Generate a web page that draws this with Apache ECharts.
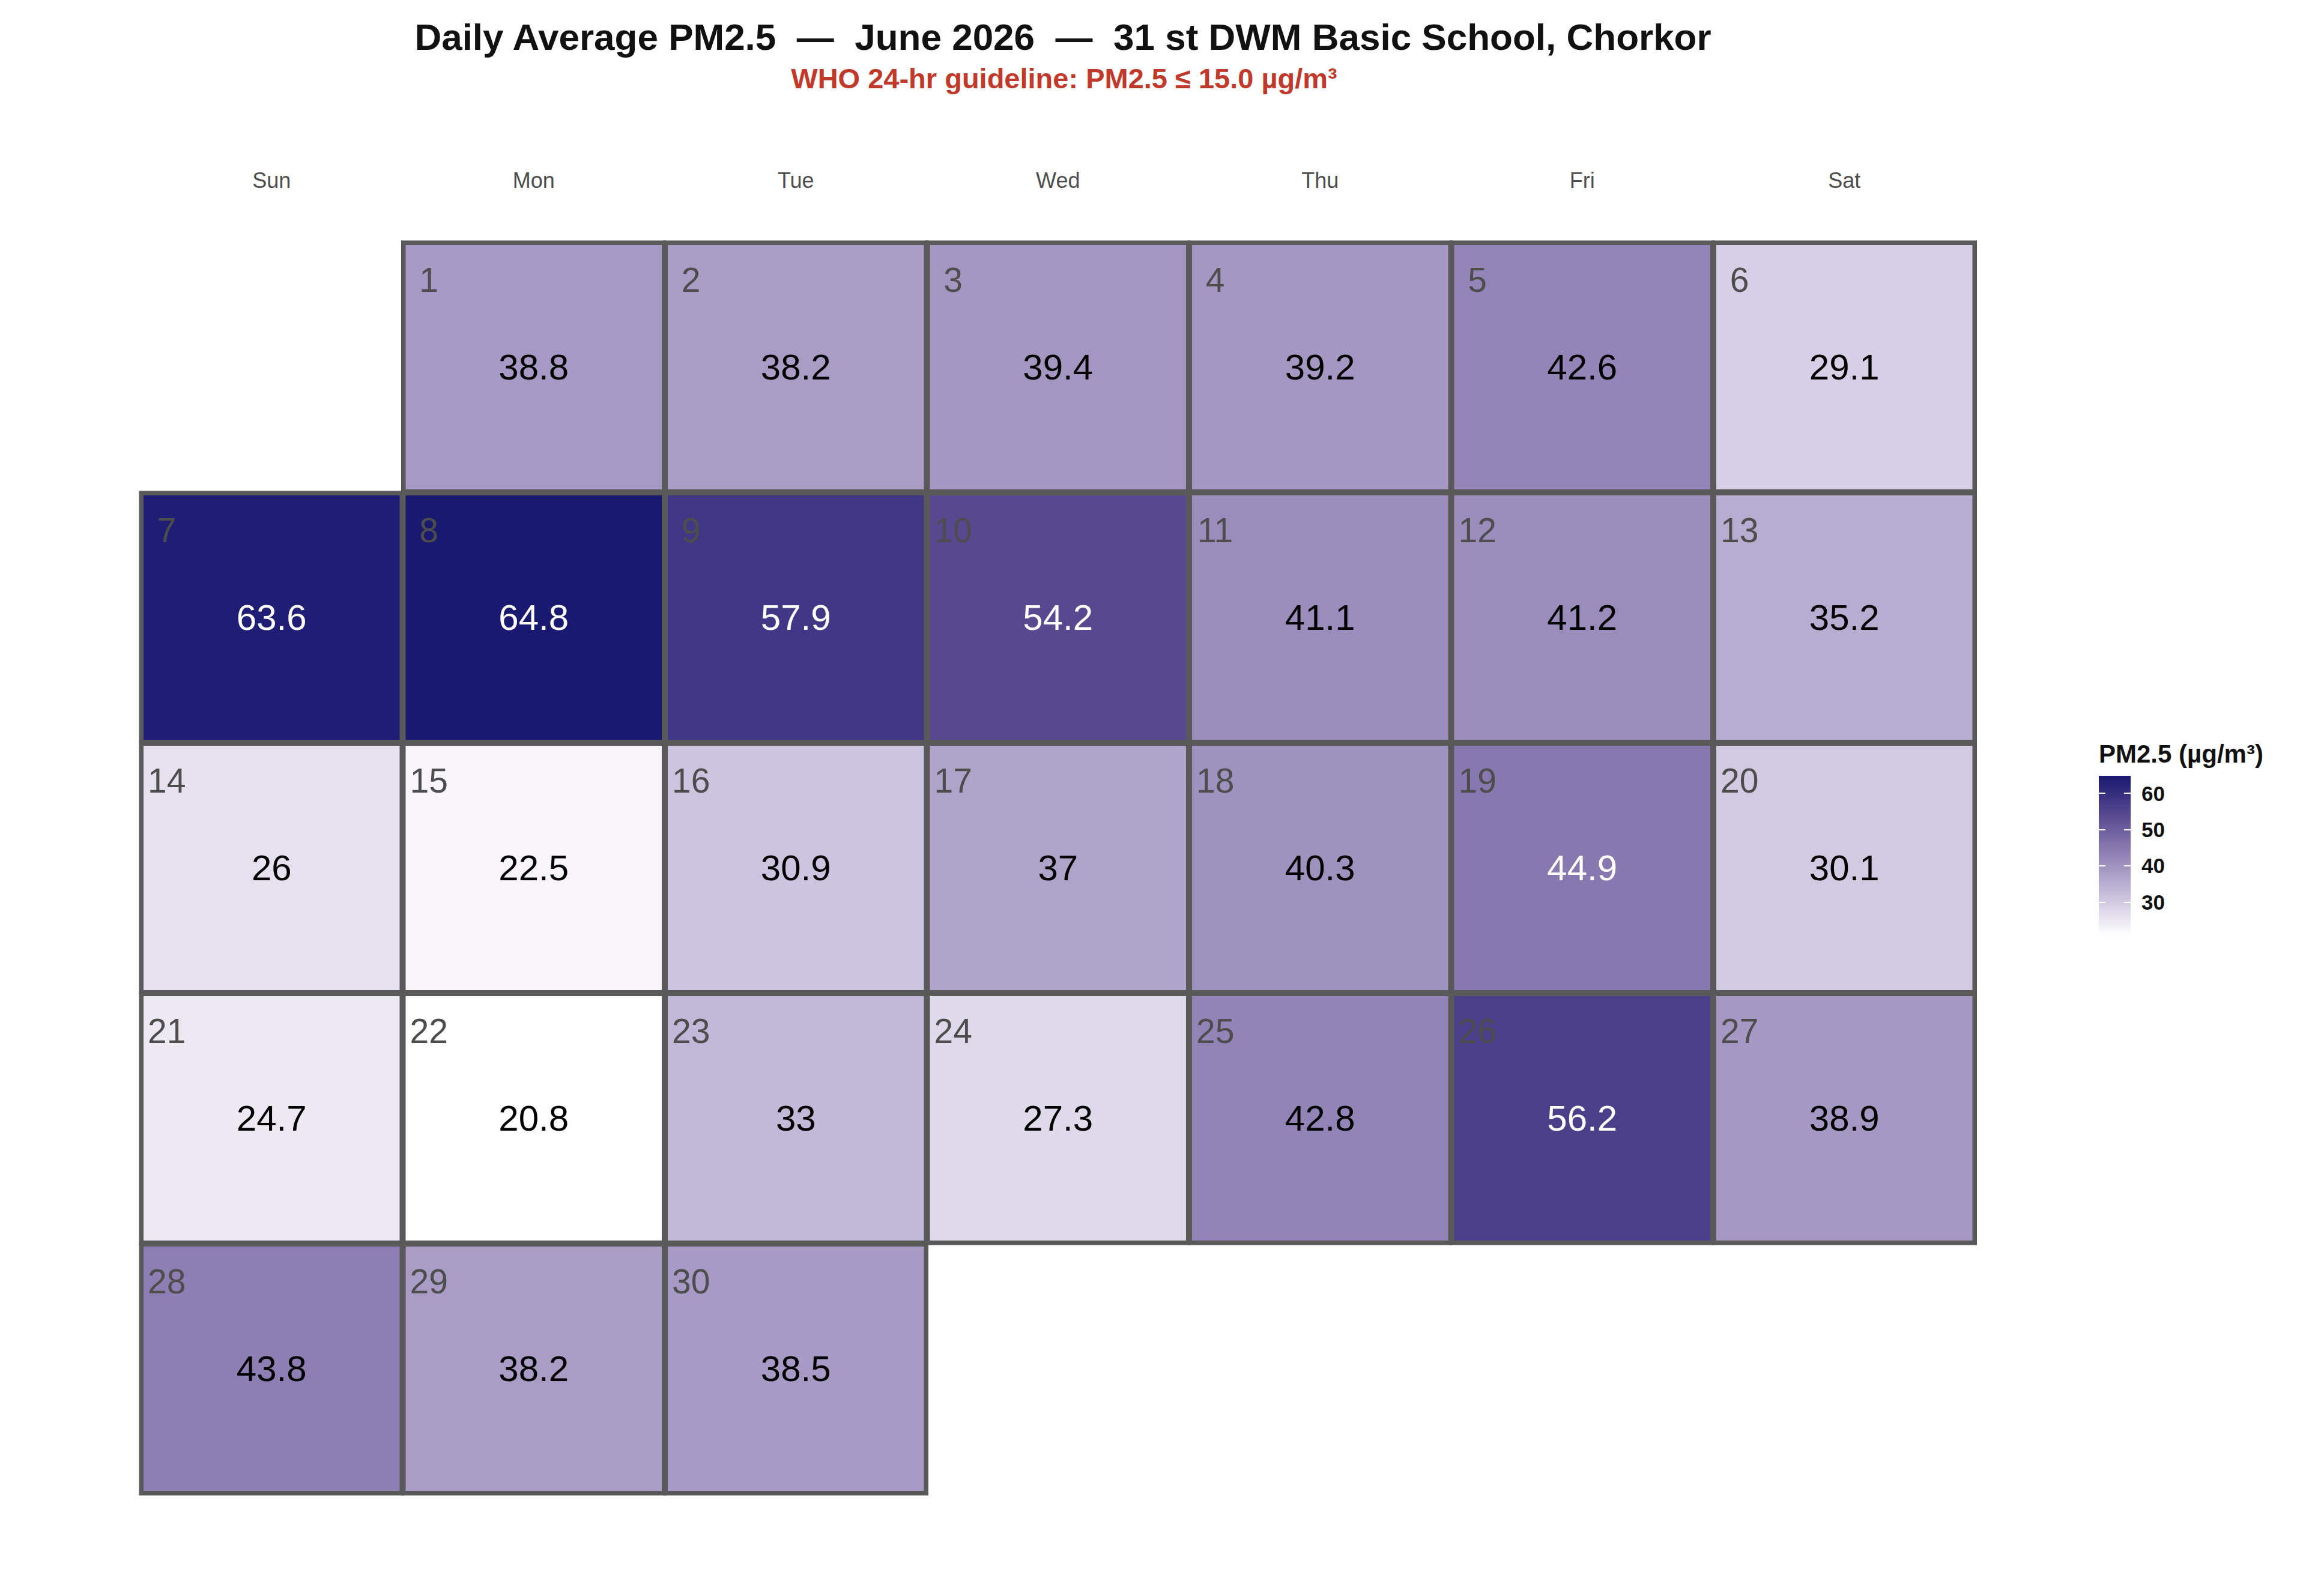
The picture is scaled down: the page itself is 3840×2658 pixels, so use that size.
<!DOCTYPE html>
<html>
<head>
<meta charset="utf-8">
<script src="https://cdn.jsdelivr.net/npm/echarts@6/dist/echarts.min.js"></script>
<style>html,body{margin:0;padding:0;background:#fff;}</style>
</head>
<body>
<div id="main" style="width:3840px;height:2658px;"></div>
<script>
// data
var month = '2026-06';
var weekdays = ['Sun', 'Mon', 'Tue', 'Wed', 'Thu', 'Fri', 'Sat'];
// daily mean PM2.5, June 1..30
var pm25 = [
    38.8, 38.2, 39.4, 39.2, 42.6, 29.1,
    63.6, 64.8, 57.9, 54.2, 41.1, 41.2, 35.2,
    26, 22.5, 30.9, 37, 40.3, 44.9, 30.1,
    24.7, 20.8, 33, 27.3, 42.8, 56.2, 38.9,
    43.8, 38.2, 38.5
];
var legendTicks = [30, 40, 50, 60];

var titleText = 'Daily Average PM2.5  \u2014  June 2026  \u2014  31 st DWM Basic School, Chorkor';
var subText = 'WHO 24-hr guideline: PM2.5 \u2264 15.0 \u00b5g/m\u00b3';
var legendName = 'PM2.5 (\u00b5g/m\u00b3)';

var font = "'Liberation Sans', Arial, Helvetica, sans-serif";
var ramp = ['#ffffff', '#c8c0dc', '#9284b6', '#594a91', '#191970'];
var vMin = Math.min.apply(null, pm25);
var vMax = Math.max.apply(null, pm25);

function dateOf(i) {
    var d = i + 1;
    return month + '-' + (d < 10 ? '0' + d : d);
}

var cells = pm25.map(function (v, i) {
    return {
        value: [dateOf(i), v],
        label: { color: v > 44 ? '#ffffff' : '#000000' }
    };
});
var dayNums = pm25.map(function (v, i) {
    return [dateOf(i), i + 1];
});

// gradient for the legend bar, dark at the top
var rampStops = ramp.slice().reverse().map(function (c, i, a) {
    return { offset: i / (a.length - 1), color: c };
});

var myChart = echarts.init(document.getElementById('main'), null, { renderer: 'svg' });

var option = {
    backgroundColor: '#ffffff',
    animation: false,
    title: [
        {
            text: titleText,
            left: 1770, top: 30, padding: 0, textAlign: 'center',
            textStyle: { fontFamily: font, fontSize: 62, fontWeight: 'bold', color: '#111111' }
        },
        {
            text: subText,
            left: 1772, top: 107, padding: 0, textAlign: 'center',
            textStyle: { fontFamily: font, fontSize: 47, fontWeight: 'bold', color: '#c0392b' }
        },
        {
            text: legendName,
            left: 3495, top: 1234, padding: 0,
            textStyle: { fontFamily: font, fontSize: 42, fontWeight: 'bold', color: '#111111' }
        }
    ],
    visualMap: {
        show: false,
        type: 'continuous',
        seriesIndex: 0,
        dimension: 1,
        min: vMin,
        max: vMax,
        inRange: { color: ramp }
    },
    calendar: {
        orient: 'vertical',
        range: month,
        left: 234,
        top: 403,
        cellSize: [436.5, 417],
        splitLine: { show: false },
        itemStyle: { color: 'transparent', borderColor: '#595959', borderWidth: 5 },
        dayLabel: {
            firstDay: 0,
            position: 'start',
            margin: 85,
            nameMap: weekdays,
            fontFamily: font,
            fontSize: 36,
            color: '#4d4d4d'
        },
        monthLabel: { show: false },
        yearLabel: { show: false }
    },
    grid: { left: 3495, top: 1292, width: 53, height: 266 },
    xAxis: { type: 'category', data: ['pm'], show: false },
    yAxis: [
        {
            type: 'value', min: vMin, max: vMax, position: 'left', z: 10,
            axisLine: { show: false },
            splitLine: { show: false },
            axisTick: { show: true, inside: true, length: 11, customValues: legendTicks,
                lineStyle: { color: '#ffffff', width: 2 } },
            axisLabel: { show: false }
        },
        {
            type: 'value', min: vMin, max: vMax, position: 'right', z: 10,
            axisLine: { show: false },
            splitLine: { show: false },
            axisTick: { show: true, inside: true, length: 11, customValues: legendTicks,
                lineStyle: { color: '#ffffff', width: 2 } },
            axisLabel: { show: true, margin: 18, customValues: legendTicks,
                fontFamily: font, fontSize: 35, fontWeight: 'bold', color: '#111111' }
        }
    ],
    series: [
        {
            type: 'heatmap',
            coordinateSystem: 'calendar',
            data: cells,
            itemStyle: { borderColor: '#595959', borderWidth: 5 },
            label: {
                show: true,
                formatter: function (p) { return String(p.value[1]); },
                fontFamily: font,
                fontSize: 60,
                textBorderWidth: 0
            },
            emphasis: { disabled: true }
        },
        {
            type: 'custom',
            coordinateSystem: 'calendar',
            data: dayNums,
            z: 5,
            renderItem: function (params, api) {
                var p = api.coord(api.value(0));
                var cw = params.coordSys.cellWidth;
                var ch = params.coordSys.cellHeight;
                return {
                    type: 'text',
                    x: p[0] - cw * 0.4,
                    y: p[1] - ch * 0.35,
                    style: {
                        text: String(api.value(1)),
                        fill: '#4d4d4d',
                        fontFamily: font,
                        fontSize: 57,
                        align: 'center',
                        verticalAlign: 'middle'
                    }
                };
            }
        },
        {
            type: 'bar', stack: 'legend', xAxisIndex: 0, yAxisIndex: 0,
            barWidth: '100%', silent: true,
            data: [vMin],
            itemStyle: { color: 'rgba(0,0,0,0)' }
        },
        {
            type: 'bar', stack: 'legend', xAxisIndex: 0, yAxisIndex: 0,
            barWidth: '100%', silent: true,
            data: [vMax - vMin],
            itemStyle: { color: new echarts.graphic.LinearGradient(0, 0, 0, 1, rampStops) }
        }
    ]
};

myChart.setOption(option);
</script>
</body>
</html>
